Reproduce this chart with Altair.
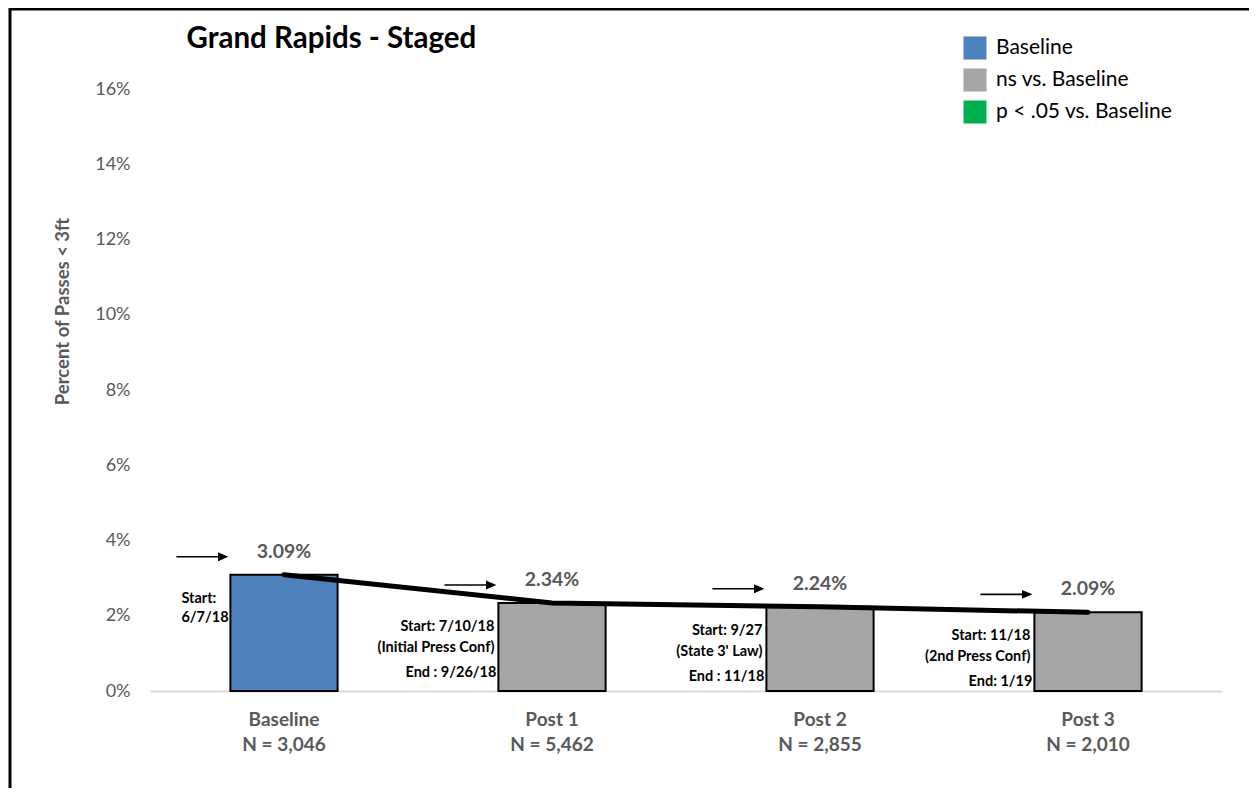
import altair as alt
import pandas as pd

# ---- data ----
categories = ["Baseline", "Post 1", "Post 2", "Post 3"]
n_labels = ["N = 3,046", "N = 5,462", "N = 2,855", "N = 2,010"]
pct_values = [3.09, 2.34, 2.24, 2.09]
status = ["Baseline", "ns vs. Baseline", "ns vs. Baseline", "ns vs. Baseline"]
start_text = [
    ["Start:", "6/7/18"],
    ["Start: 7/10/18", "(Initial Press Conf)"],
    ["Start: 9/27", "(State 3' Law)"],
    ["Start: 11/18", "(2nd Press Conf)"],
]
end_text = ["", "End : 9/26/18", "End : 11/18", "End: 1/19"]

legend_labels = ["Baseline", "ns vs. Baseline", "p < .05 vs. Baseline"]
legend_colors = ["#4f81bd", "#a6a6a6", "#00b050"]
y_ticks = [0, 2, 4, 6, 8, 10, 12, 14, 16]

FONT = "Lato"
GRAY = "#595959"
ARROW = "M-1,-0.03 L0.6,-0.03 L0.6,-0.17 L1,0 L0.6,0.17 L0.6,0.03 L-1,0.03 Z"

df = pd.DataFrame({
    "cat": categories,
    "pct": pct_values,
    "status": status,
    "pct_label": [f"{v:.2f}%" for v in pct_values],
    "start": start_text,
    "end": end_text,
})
df_post = df[df["cat"] != "Baseline"]
df_base = df[df["cat"] == "Baseline"]

label_map = "{" + ", ".join(
    f"'{c}': ['{c}', '{n}']" for c, n in zip(categories, n_labels)
) + "}"

x_scale = alt.Scale(domain=categories, paddingInner=0.6, paddingOuter=0.3)
y_scale = alt.Scale(domain=[0, 16])

x_enc = alt.X(
    "cat:N",
    scale=x_scale,
    sort=categories,
    axis=alt.Axis(
        title=None,
        labelExpr=f"{label_map}[datum.value]",
        labelAngle=0,
        labelFont=FONT,
        labelFontSize=19,
        labelFontWeight="bold",
        labelColor=GRAY,
        labelPadding=19,
        labelLineHeight=25,
        labelBaseline="top",
        ticks=False,
        domainColor="#d9d9d9",
        domainWidth=2,
        grid=False,
    ),
)
x_mid = alt.X("cat:N", scale=x_scale, sort=categories)
x_left = alt.X("cat:N", scale=x_scale, sort=categories, bandPosition=0)
y_val = alt.Y("pct:Q", scale=y_scale)
y_enc = alt.Y(
    "pct:Q",
    scale=y_scale,
    axis=alt.Axis(
        title="Percent of Passes < 3ft",
        values=y_ticks,
        labelExpr="datum.value + '%'",
        labelFont=FONT,
        labelFontSize=18,
        labelColor=GRAY,
        labelPadding=20,
        ticks=False,
        domain=False,
        grid=False,
        titleFont=FONT,
        titleFontSize=18.5,
        titleFontWeight="bold",
        titleColor=GRAY,
        titleX=-88,
        titleY=222,
        titleAngle=-90,
        titleAlign="center",
        titleBaseline="middle",
    ),
)

base = alt.Chart(df)

bars = base.mark_bar(stroke="black", strokeWidth=2).encode(
    x=x_enc,
    y=y_enc,
    color=alt.Color(
        "status:N",
        scale=alt.Scale(domain=legend_labels, range=legend_colors),
        legend=alt.Legend(
            title=None,
            orient="none",
            legendX=813,
            legendY=-53,
            symbolType="square",
            symbolSize=530,
            symbolStrokeWidth=0,
            symbolOpacity=1,
            labelFont=FONT,
            labelFontSize=21,
            labelColor="black",
            labelOffset=9,
            labelLimit=400,
            rowPadding=8,
        ),
    ),
)

line = base.mark_line(color="black", strokeWidth=5, strokeCap="round").encode(
    x=x_mid, y=y_val
)

value_labels = base.mark_text(
    font=FONT, fontSize=19.5, fontWeight="bold", color=GRAY, dy=-23, baseline="middle"
).encode(x=x_mid, y=y_val, text="pct_label:N")

arrows = base.mark_point(
    shape=ARROW, size=2704, filled=True, color="black", opacity=1,
    strokeWidth=0, xOffset=-28, yOffset=-18
).encode(x=x_left, y=y_val)

start_post = alt.Chart(df_post).mark_text(
    font=FONT, fontSize=14.5, fontWeight="bold", color="black", align="right",
    baseline="middle", dx=-4, dy=24, lineHeight=21
).encode(x=x_left, y=y_val, text="start")

end_post = alt.Chart(df_post).mark_text(
    font=FONT, fontSize=14.5, fontWeight="bold", color="black", align="right",
    baseline="middle", dx=-2, dy=70
).encode(x=x_left, y=y_val, text="end:N")

start_base = alt.Chart(df_base).mark_text(
    font=FONT, fontSize=14.5, fontWeight="bold", color="black", align="left",
    baseline="middle", dx=-49, dy=24, lineHeight=19
).encode(x=x_left, y=y_val, text="start")

frame = alt.Chart(pd.DataFrame({"k": [0]})).mark_rect(
    fill=None, stroke="black", strokeWidth=3
).encode(
    x=alt.value(-140), x2=alt.value(1300), y=alt.value(-80), y2=alt.value(900)
)

chart = alt.layer(
    frame, bars, line, value_labels, arrows, start_post, end_post, start_base
).properties(
    width=1072,
    height=602,
    padding={"left": 142, "top": 81, "right": 27, "bottom": 97},
    autosize=alt.AutoSizeParams(type="none"),
    title=alt.TitleParams(
        "Grand Rapids - Staged",
        anchor="start",
        dx=178,
        font=FONT,
        fontSize=29.5,
        fontWeight="bold",
        color="black",
        offset=0,
        dy=70,
        baseline="alphabetic",
    ),
).configure(background="white").configure_view(stroke=None)

chart.save("out.html", embed_options={"renderer": "svg", "actions": False})
